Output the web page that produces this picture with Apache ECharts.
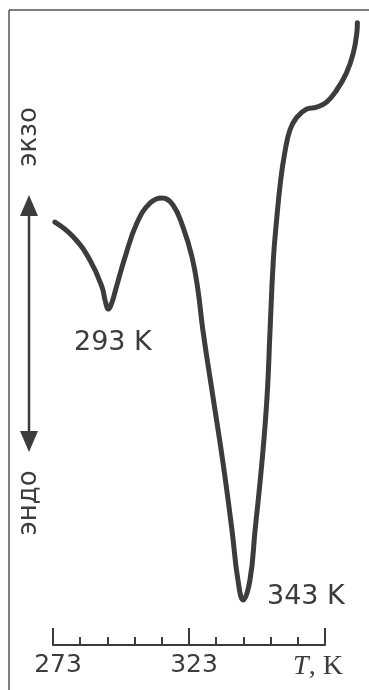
<!DOCTYPE html>
<html>
<head>
<meta charset="utf-8">
<script src="https://cdn.jsdelivr.net/npm/echarts@6/dist/echarts.min.js"></script>
<style>
html,body{margin:0;padding:0;background:#fff;}
#c{width:369px;height:690px;}
</style>
</head>
<body>
<div id="c"></div>
<script>
// Temperature, K
var temps = [273.7, 280.4, 286.6, 291.0, 292.2, 293.4, 294.7, 295.8, 299.5, 303.9, 308.7, 313.1, 317.1, 320.8, 324.1, 326.3, 328.1, 331.8, 335.5, 338.8, 341.0, 342.9, 345.4, 347.3, 349.8, 351.7, 352.8, 354.0, 355.2, 356.7, 358.2, 360.1, 362.6, 366.3, 369.9, 373.6, 377.3, 380.9, 383.4, 384.7, 384.9];
// DTA signal, arbitrary units (up = exo)
var signal = [66.6, 64.3, 60.6, 56.4, 54.2, 52.9, 54.0, 55.6, 61.1, 66.5, 69.6, 70.4, 69.3, 65.8, 61.1, 55.9, 49.6, 39.1, 28.7, 18.1, 10.2, 7.1, 10.2, 18.1, 28.7, 39.1, 49.6, 60.6, 66.9, 73.2, 77.5, 81.1, 83.1, 84.4, 84.7, 85.5, 87.4, 90.1, 93.2, 96.4, 98.0];
var tickMin = 273, tickMax = 373, tickStep = 50;
var peakLabels = ['293 K', '343 K'];
var sideLabels = ['экзо', 'эндо'];

var curve = temps.map(function (t, i) { return [t, signal[i]]; });
var ink = '#3c3c3c';
var chart = echarts.init(document.getElementById('c'), null, {renderer: 'canvas'});
chart.setOption({
  animation: false,
  backgroundColor: '#ffffff',
  grid: [
    {left: 12.2, right: 3.2, top: 10, bottom: 45},
    {left: 53, right: 44, top: 600, bottom: 45}
  ],
  xAxis: [
    {gridIndex: 0, type: 'value', min: 258, max: 388, show: false},
    {gridIndex: 1, type: 'value', min: tickMin, max: tickMax, interval: tickStep,
      axisLine: {show: true, lineStyle: {color: ink, width: 2}},
      axisTick: {show: true, inside: true, length: 17, lineStyle: {color: ink, width: 2}},
      minorTick: {show: true, splitNumber: 5, length: 8, lineStyle: {color: ink, width: 2}},
      splitLine: {show: false},
      axisLabel: {
        show: true, margin: 8, color: ink,
        fontFamily: 'DejaVu Sans', fontSize: 25,
        formatter: function (v) {
          if (v === tickMax) return '{t|T}{k|, K}';
          return '{n|' + v + '}';
        },
        rich: {
          n: {fontFamily: 'DejaVu Sans', fontSize: 25, color: ink, padding: [0, 0, 0, 10]},
          t: {fontFamily: 'Liberation Serif', fontStyle: 'italic', fontSize: 28, color: ink, padding: [0, 0, 0, 0]},
          k: {fontFamily: 'Liberation Serif', fontSize: 28, color: ink, padding: [0, 14, 0, 0]}
        }
      }
    }
  ],
  yAxis: [
    {gridIndex: 0, type: 'value', min: 0, max: 100, show: false},
    {gridIndex: 1, type: 'value', min: 0, max: 1, show: false}
  ],
  series: [{
    type: 'line', xAxisIndex: 0, yAxisIndex: 0,
    data: curve, smooth: 0.45, showSymbol: false, clip: false,
    lineStyle: {color: ink, width: 5, cap: 'round', join: 'round'}
  }],
  graphic: [
    {type: 'line', shape: {x1: 9, y1: 10, x2: 9, y2: 690}, style: {stroke: '#555', lineWidth: 1.5}},
    {type: 'line', shape: {x1: 9, y1: 10, x2: 369, y2: 10}, style: {stroke: '#555', lineWidth: 1.5}},
    {type: 'line', shape: {x1: 29, y1: 212, x2: 29, y2: 435}, style: {stroke: ink, lineWidth: 2.5}},
    {type: 'polygon', shape: {points: [[29, 195], [20, 216], [38, 216]]}, style: {fill: ink}},
    {type: 'polygon', shape: {points: [[29, 452], [20, 431], [38, 431]]}, style: {fill: ink}},
    {type: 'text', x: 29, y: 137, rotation: Math.PI / 2,
      style: {text: sideLabels[0], fill: ink, font: '26px "DejaVu Sans"', textAlign: 'center', textVerticalAlign: 'middle'}},
    {type: 'text', x: 29, y: 503, rotation: Math.PI / 2,
      style: {text: sideLabels[1], fill: ink, font: '26px "DejaVu Sans"', textAlign: 'center', textVerticalAlign: 'middle'}},
    {type: 'text', x: 74, y: 343,
      style: {text: peakLabels[0], fill: ink, font: '27px "DejaVu Sans"', textAlign: 'left', textVerticalAlign: 'middle'}},
    {type: 'text', x: 267, y: 597,
      style: {text: peakLabels[1], fill: ink, font: '27px "DejaVu Sans"', textAlign: 'left', textVerticalAlign: 'middle'}}
  ]
});
</script>
</body>
</html>
